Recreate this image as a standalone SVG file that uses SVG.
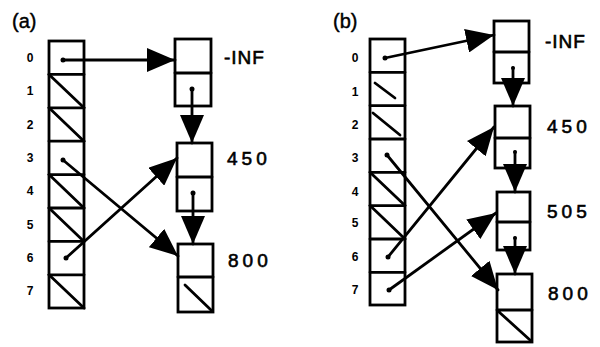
<svg xmlns="http://www.w3.org/2000/svg" width="600" height="347" viewBox="0 0 600 347">
<defs>
<style>
.box{fill:#fff;stroke:#000;stroke-width:2.8}
.ln{fill:none;stroke:#000;stroke-width:2.8;stroke-linecap:round}
.edge{fill:none;stroke:#000;stroke-width:2.8;stroke-linecap:round;marker-end:url(#ah)}
.idx{font-family:"Liberation Sans",Arial,sans-serif;font-weight:bold;font-size:12px;text-anchor:middle}
.lbl{font-family:"Liberation Sans",Arial,sans-serif;font-size:19px;letter-spacing:4px;stroke:#000;stroke-width:0.6}
.inf{letter-spacing:1px}
.ttl{font-family:"Liberation Sans",Arial,sans-serif;font-size:20px;stroke:#000;stroke-width:0.4}
</style>
<marker id="ah" markerUnits="userSpaceOnUse" markerWidth="28" markerHeight="24" viewBox="0 0 28 24" refX="28" refY="12" orient="auto">
<path d="M0,0 L28,12 L0,24 z" fill="#000"/>
</marker>
</defs>
<rect width="600" height="347" fill="#fff"/>

<!-- Panel (a) -->
<text class="ttl" x="12" y="28">(a)</text>
<g id="a-array">
<rect class="box" x="49" y="41" width="35" height="267"/>
<path class="ln" d="M49,74.4H84M49,107.8H84M49,141.2H84M49,174.6H84M49,208H84M49,241.4H84M49,274.8H84"/>
<path class="ln" d="M49,74.4L84,107.8M49,107.8L84,141.2M49,174.6L84,208M49,208L84,241.4M49,274.8L84,308"/>
<circle cx="63" cy="60" r="2.5"/><circle cx="63" cy="160" r="2.5"/><circle cx="66" cy="258" r="2.5"/>
<text class="idx" x="30" y="62">0</text><text class="idx" x="30" y="95">1</text><text class="idx" x="30" y="129">2</text><text class="idx" x="30" y="162">3</text><text class="idx" x="30" y="195">4</text><text class="idx" x="30" y="229">5</text><text class="idx" x="30" y="262">6</text><text class="idx" x="30" y="295">7</text>
</g>
<g id="a-inf">
<rect class="box" x="175" y="39" width="36" height="67"/>
<path class="ln" d="M175,73H211"/>
<circle cx="192" cy="89" r="2.5"/>
<text class="lbl inf" x="224" y="64">-INF</text>
</g>
<g id="a-450">
<rect class="box" x="177" y="143" width="35" height="68"/>
<path class="ln" d="M177,177H212"/>
<circle cx="193" cy="193" r="2.5"/>
<text class="lbl" x="227" y="165">450</text>
</g>
<g id="a-800">
<rect class="box" x="178" y="244" width="35" height="68"/>
<path class="ln" d="M178,277H213M185,285L211,310"/>
<text class="lbl" x="228" y="267">800</text>
</g>

<!-- Panel (b) -->
<text class="ttl" x="333" y="28">(b)</text>
<g id="b-array">
<rect class="box" x="370" y="39" width="35" height="266"/>
<path class="ln" d="M370,72.3H405M370,105.6H405M370,139H405M370,172.3H405M370,205.6H405M370,239H405M370,272.3H405"/>
<path class="ln" d="M375,83L395,98M373,113L400,135M370,172.3L405,205.6M370,205.6L405,239"/>
<circle cx="385" cy="58" r="2.5"/><circle cx="387" cy="155" r="2.5"/><circle cx="388" cy="257" r="2.5"/><circle cx="389" cy="290" r="2.5"/>
<text class="idx" x="355" y="62">0</text><text class="idx" x="355" y="96">1</text><text class="idx" x="355" y="129">2</text><text class="idx" x="355" y="162">3</text><text class="idx" x="355" y="196">4</text><text class="idx" x="355" y="227">5</text><text class="idx" x="355" y="261">6</text><text class="idx" x="355" y="294">7</text>
</g>
<g id="b-inf">
<rect class="box" x="494" y="21" width="35" height="62"/>
<path class="ln" d="M494,52H529"/>
<circle cx="513" cy="68" r="2"/>
<text class="lbl inf" x="545" y="48">-INF</text>
</g>
<g id="b-450">
<rect class="box" x="495" y="106" width="35" height="62"/>
<path class="ln" d="M495,138H530"/>
<circle cx="515" cy="152" r="2"/>
<text class="lbl" x="547" y="133">450</text>
</g>
<g id="b-505">
<rect class="box" x="497" y="192" width="33" height="58"/>
<path class="ln" d="M497,222H530"/>
<circle cx="515" cy="238" r="2"/>
<text class="lbl" x="547" y="218">505</text>
</g>
<g id="b-800">
<rect class="box" x="497" y="274" width="35" height="68"/>
<path class="ln" d="M497,310H532M499,312L530,340"/>
<text class="lbl" x="548" y="300">800</text>
</g>

<g id="connectors">
<path class="edge" d="M63,60L175,60"/>
<path class="edge" d="M192,89L192,143"/>
<path class="edge" d="M63,160L178,256"/>
<path class="edge" d="M66,258L177,158"/>
<path class="edge" d="M193,193L193,244"/>
<path class="edge" d="M385,58L494,35"/>
<path class="edge" d="M513,68L513,106"/>
<path class="edge" d="M515,152L515,192"/>
<path class="edge" d="M515,238L515,274"/>
<path class="edge" d="M387,155L498,290"/>
<path class="edge" d="M388,257L494,127"/>
<path class="edge" d="M389,290L496,213"/>
</g>
</svg>
